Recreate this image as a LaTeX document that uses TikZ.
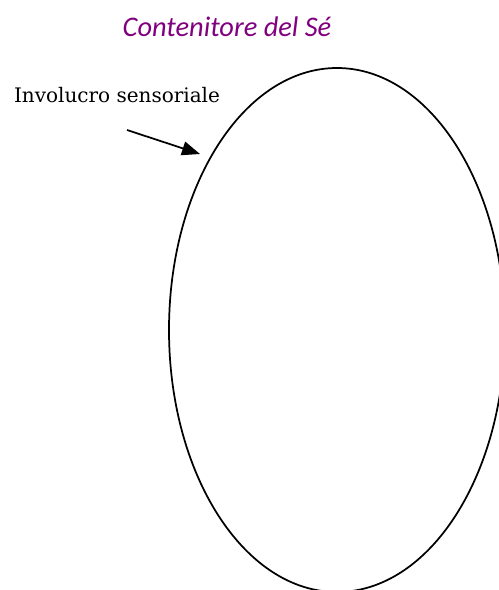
\documentclass[tikz,border=0pt]{standalone}
\usepackage{fontspec}
\setmainfont{DejaVu Serif}
\newfontfamily\titlefont{Carlito}
\usetikzlibrary{arrows.meta,shapes.geometric}
\definecolor{selfpurple}{RGB}{128,0,128}

\begin{document}
\begin{tikzpicture}[x=0.75pt, y=-0.75pt,
  heading/.style={font=\titlefont\itshape\fontsize{21.3}{25}\selectfont,
                  text=selfpurple, inner sep=0pt},
  tag/.style={font=\fontsize{15}{18}\selectfont, inner sep=0pt},
  container/.style={ellipse, draw, line width=1.3pt, inner sep=0pt,
                    minimum width=252pt, minimum height=393pt},
  pointer/.style={-{Triangle[length=13.5pt, width=10.5pt]}, line width=1.3pt},
]
  \clip (0,0) rectangle (499,590);

  % title and label
  \node[heading] (title) at (227,27) {Contenitore del Sé};
  \node[tag] (involucro) at (117,95) {Involucro sensoriale};

  % the container
  \node[container] (contenitore) at (337,330) {};

  % arrow towards the outline
  \coordinate (tail) at (127,130);
  \coordinate (tip) at (200,154);
  \draw[pointer] (tail) -- (tip);
\end{tikzpicture}
\end{document}
